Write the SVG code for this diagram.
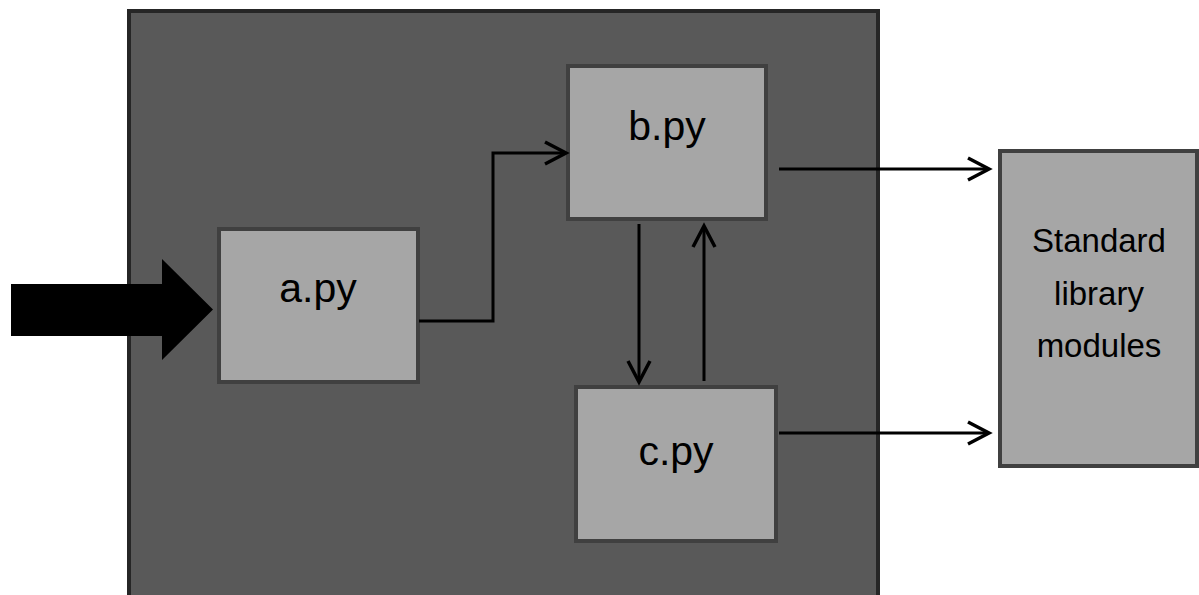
<svg xmlns="http://www.w3.org/2000/svg" width="1199" height="595" viewBox="0 0 1199 595">
<style>
.box{fill:#a6a6a6;stroke:#404040;stroke-width:4;}
.lbl{font-family:"Liberation Sans",Arial,sans-serif;font-size:41px;fill:#000;text-anchor:middle;}
.lbl2{font-family:"Liberation Sans",Arial,sans-serif;font-size:33px;fill:#000;text-anchor:middle;}
.con{fill:none;stroke:#000;stroke-width:3;marker-end:url(#arr);}
</style>
<defs>
<marker id="arr" markerUnits="userSpaceOnUse" markerWidth="30" markerHeight="30" viewBox="-25 -15 30 30" refX="0" refY="0" orient="auto">
<path d="M-21,-11 L0,0 L-21,11" fill="none" stroke="#000" stroke-width="3.5"/>
</marker>
</defs>
<rect width="1199" height="595" fill="#fff"/>
<g id="container">
<rect x="129" y="11" width="749" height="600" fill="#595959" stroke="#262626" stroke-width="4"/>
</g>
<g id="entry">
<polygon points="11,284 162,284 162,259 213,309.5 162,360 162,336 11,336" fill="#000"/>
</g>
<g id="a">
<rect class="box" x="219" y="229" width="199" height="153"/>
<text class="lbl" x="318" y="302">a.py</text>
</g>
<g id="b">
<rect class="box" x="568" y="66" width="198" height="153"/>
<text class="lbl" x="667" y="140">b.py</text>
</g>
<g id="c">
<rect class="box" x="576" y="387" width="200" height="154"/>
<text class="lbl" x="676" y="465">c.py</text>
</g>
<g id="std">
<rect class="box" x="1000" y="151" width="197" height="315"/>
<text class="lbl2" x="1099" y="252">Standard</text>
<text class="lbl2" x="1099" y="305">library</text>
<text class="lbl2" x="1099" y="357">modules</text>
</g>
<g id="connectors">
<path class="con" d="M419,321 H493 V153 H566"/>
<path class="con" d="M639,224 V382"/>
<path class="con" d="M704,381 V226"/>
<path class="con" d="M779,169 H989"/>
<path class="con" d="M779,433 H989"/>
</g>
</svg>
